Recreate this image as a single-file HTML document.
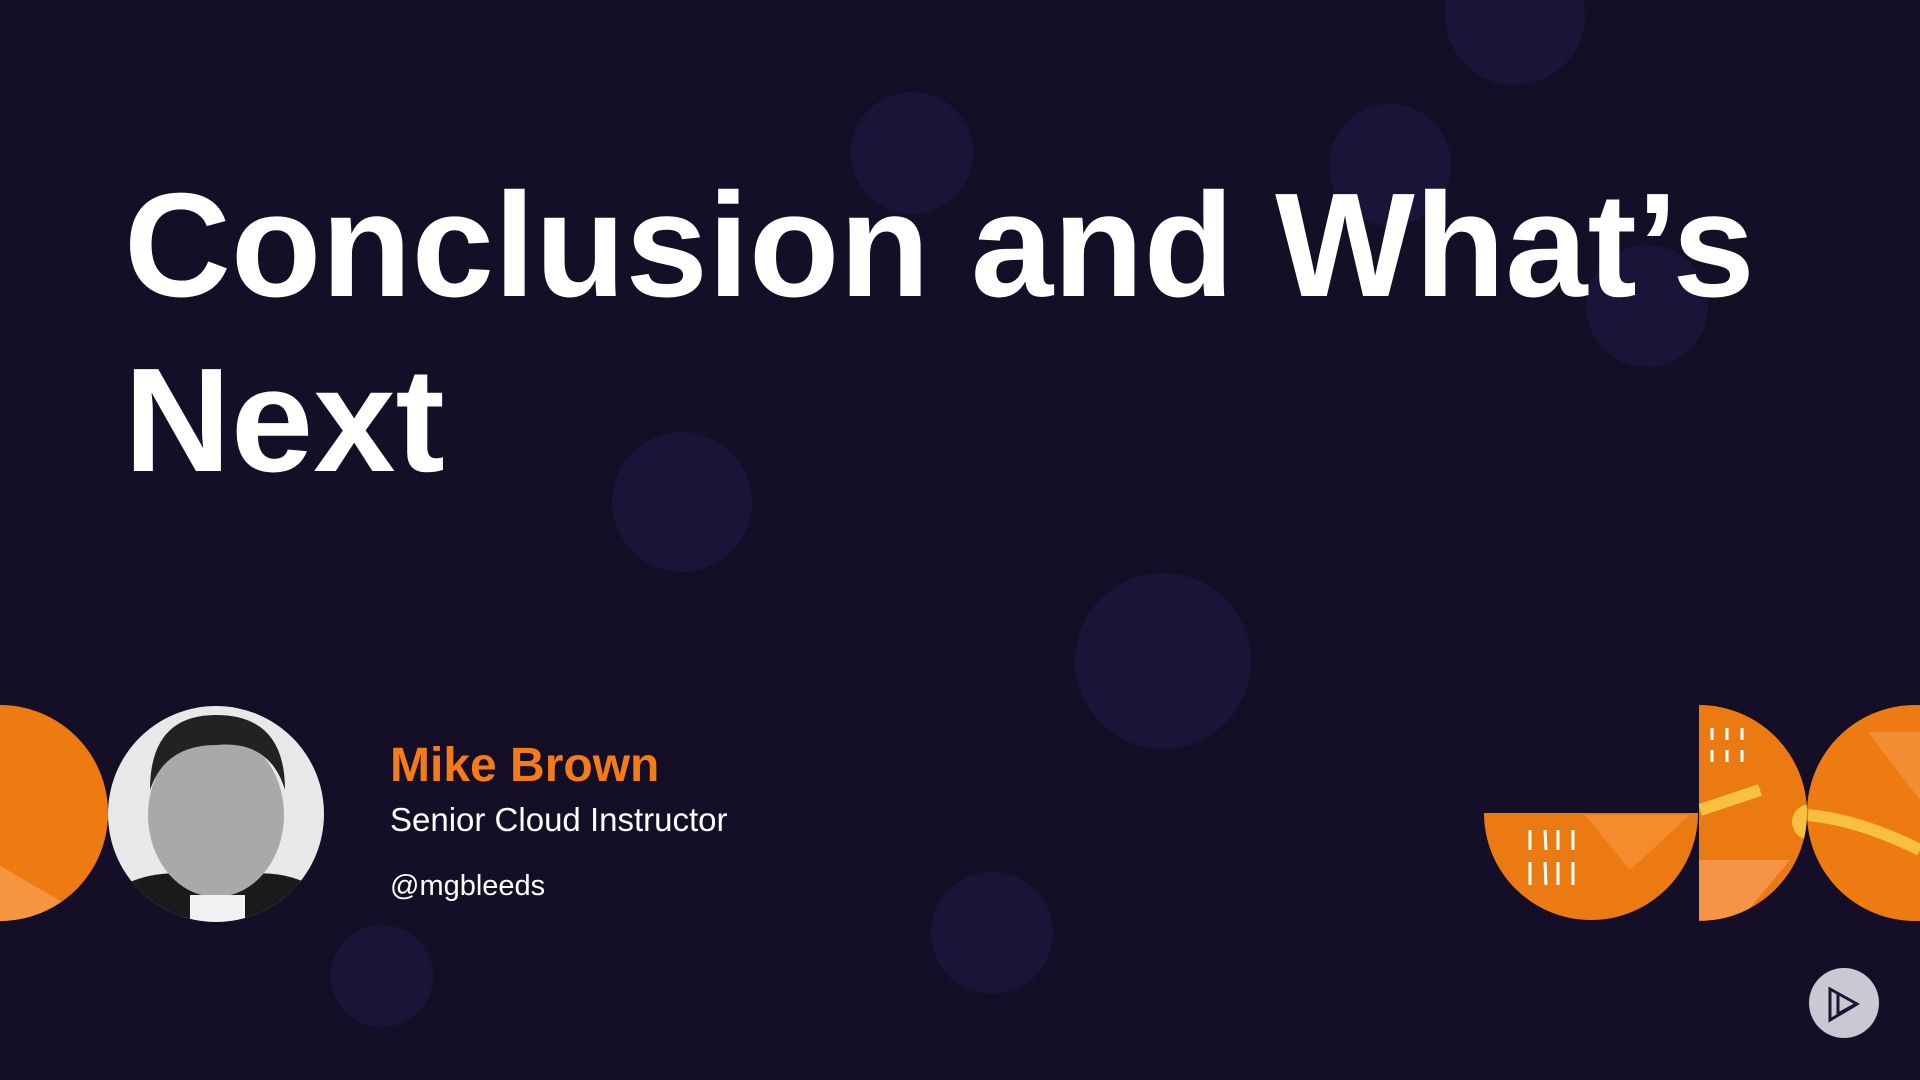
<!DOCTYPE html>
<html><head><meta charset="utf-8"><style>
html,body{margin:0;padding:0;background:#140f27;}
#s{position:relative;width:1920px;height:1080px;overflow:hidden;background:#140f27;font-family:"Liberation Sans",sans-serif;}
.t{position:absolute;color:#fff;font-weight:bold;font-size:148px;left:124px;line-height:1;letter-spacing:0px;white-space:nowrap}
.n{position:absolute;left:390px;top:742px;color:#f47b16;font-weight:bold;font-size:48px;line-height:1}
.r{position:absolute;left:390px;top:803px;color:#fff;font-size:33px;line-height:1}
.h{position:absolute;left:390px;top:872px;color:#fff;font-size:29px;line-height:1}
</style></head><body><div id="s">
<svg width="1920" height="1080" style="position:absolute;left:0;top:0">
<defs>
<clipPath id="c1"><circle cx="0" cy="813" r="108"/></clipPath>
<clipPath id="c2"><path d="M1484 813 A107 107 0 0 0 1698 813 Z"/></clipPath>
<clipPath id="c3"><path d="M1699 705 A108 108 0 0 1 1699 921 Z"/></clipPath>
<clipPath id="c4"><circle cx="1915" cy="813" r="108"/></clipPath>
<clipPath id="cp"><circle cx="216" cy="814" r="108"/></clipPath>
</defs>
<g fill="#1a1538">
<circle cx="1515" cy="15" r="70"/><circle cx="912" cy="153" r="61"/><circle cx="1390" cy="165" r="61"/>
<circle cx="1647" cy="306" r="61"/><circle cx="682" cy="502" r="70"/><circle cx="1163" cy="661" r="88"/>
<circle cx="992" cy="933" r="61"/><circle cx="382" cy="976" r="51"/>
</g>
<g clip-path="url(#c1)"><rect x="-120" y="700" width="240" height="230" fill="#ee7a12"/>
<polygon points="-10,860 110,930 -10,930" fill="#f69540"/><path d="M20 700 Q80 720 110 760" stroke="#f9b040" stroke-width="8" fill="none"/></g>
<g clip-path="url(#c2)"><rect x="1480" y="810" width="220" height="120" fill="#ec7a12"/>
<polygon points="1585,815 1690,815 1630,870" fill="#f48b2c"/>
<g stroke="#fff" stroke-width="3"><line x1="1530" y1="830" x2="1530" y2="850"/><line x1="1545" y1="830" x2="1546" y2="850"/><line x1="1558" y1="830" x2="1558" y2="850"/><line x1="1573" y1="830" x2="1573" y2="850"/>
<line x1="1530" y1="862" x2="1530" y2="885"/><line x1="1545" y1="862" x2="1546" y2="885"/><line x1="1558" y1="862" x2="1558" y2="885"/><line x1="1573" y1="862" x2="1573" y2="885"/></g></g>
<g clip-path="url(#c3)"><rect x="1695" y="700" width="120" height="230" fill="#ec7a12"/>
<polygon points="1699,860 1790,860 1740,920 1699,920" fill="#f59445"/>
<path d="M1700 810 L1760 790" stroke="#f9c040" stroke-width="12"/><circle cx="1810" cy="822" r="18" fill="#f9c040"/>
<g stroke="#fff" stroke-width="3"><line x1="1712" y1="728" x2="1712" y2="740"/><line x1="1727" y1="728" x2="1727" y2="740"/><line x1="1742" y1="728" x2="1742" y2="740"/><line x1="1712" y1="750" x2="1712" y2="762"/><line x1="1727" y1="750" x2="1727" y2="762"/><line x1="1742" y1="750" x2="1742" y2="762"/></g></g>
<g clip-path="url(#c4)"><rect x="1800" y="700" width="130" height="230" fill="#ee7b12"/>
<polygon points="1868,732 1920,732 1920,800" fill="#f48e35"/>
<path d="M1808 815 Q1860 820 1920 850" stroke="#f9c040" stroke-width="12" fill="none"/></g>
<g clip-path="url(#cp)"><rect x="100" y="700" width="240" height="230" fill="#e8e8e8"/>
<path d="M100 900 Q150 860 216 880 Q290 860 330 900 L330 930 L100 930Z" fill="#1a1a1a"/>
<ellipse cx="216" cy="815" rx="68" ry="82" fill="#a9a9a9"/>
<path d="M150 790 Q150 715 216 715 Q285 715 285 790 Q270 740 216 745 Q165 745 150 790Z" fill="#222"/>
<rect x="190" y="895" width="55" height="40" fill="#f2f2f2"/></g>
<circle cx="1844" cy="1003" r="35" fill="#c9c9d3"/>
<g fill="none" stroke="#1a1530" stroke-width="3"><path d="M1830 989 L1830 1020 L1857 1004Z"/><path d="M1838 994 L1838 1014 L1856 1004"/></g>
</svg>
<div class="t" style="top:172px">Conclusion and What’s</div>
<div class="t" style="top:347px">Next</div>
<div class="n">Mike Brown</div>
<div class="r">Senior Cloud Instructor</div>
<div class="h">@mgbleeds</div>
</div></body></html>
